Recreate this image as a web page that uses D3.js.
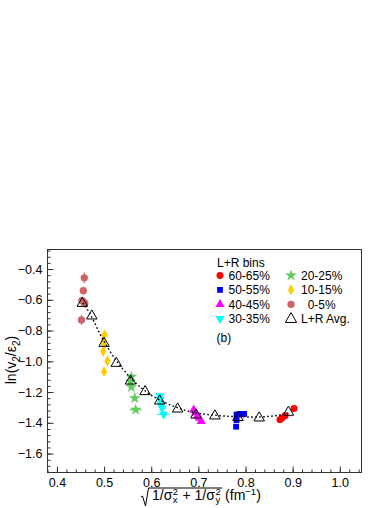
<!DOCTYPE html>
<html>
<head>
<meta charset="utf-8">
<script src="https://cdn.jsdelivr.net/npm/d3@7"></script>
<style>
  body { margin: 0; background: #fff; }
  svg { display: block; font-family: "Liberation Sans", Arial, Helvetica, sans-serif; }
</style>
</head>
<body>
<svg id="chart" width="392" height="508"></svg>
<script>
// ---------------- data ----------------
const bins = ["60-65%", "50-55%", "40-45%", "30-35%", "20-25%", "10-15%", "0-5%"];

// sqrt(1/sx^2+1/sy^2) and ln(v2/e2) for each L+R bin
const x6065 = [0.873, 0.877, 0.884, 0.903];
const y6065 = [-1.380, -1.370, -1.354, -1.307];
const x5055 = [0.781, 0.789, 0.797, 0.781, 0.780];
const y5055 = [-1.346, -1.342, -1.342, -1.382, -1.425];
const x4045 = [0.690, 0.694, 0.698, 0.702, 0.706];
const y4045 = [-1.315, -1.335, -1.355, -1.370, -1.390];
const x3035 = [0.618, 0.619, 0.621, 0.623, 0.626];
const y3035 = [-1.225, -1.248, -1.280, -1.305, -1.345];
const xe3035 = [0.004, 0.003, 0.003, 0.003, 0.014];
const x2025 = [0.558, 0.556, 0.558, 0.565, 0.567];
const y2025 = [-1.100, -1.130, -1.168, -1.240, -1.315];
const xe2025 = [0.003, 0.003, 0.003, 0.004, 0.013];
const x1015 = [0.501, 0.499, 0.500, 0.498, 0.507, 0.500];
const y1015 = [-0.828, -0.868, -0.893, -0.937, -0.998, -1.067];
const x0005 = [0.458, 0.456, 0.453, 0.457, 0.459, 0.452];
const y0005 = [-0.457, -0.541, -0.605, -0.615, -0.623, -0.731];
const ye0005 = [0.037, 0.025, 0.015, 0.015, 0.015, 0.033];

// L+R averages
const avgX = [0.454, 0.474, 0.500, 0.526, 0.556, 0.587, 0.618, 0.656, 0.695, 0.735, 0.784, 0.829, 0.891];
const avgY = [-0.623, -0.705, -0.883, -1.013, -1.128, -1.197, -1.258, -1.310, -1.349, -1.355, -1.365, -1.368, -1.331];

// dotted fit curve
const fitX = [0.455, 0.47, 0.48, 0.49, 0.50, 0.52, 0.54, 0.56, 0.58, 0.60, 0.62, 0.65, 0.68, 0.70, 0.74, 0.78, 0.82, 0.86, 0.895];
const fitY = [-0.62, -0.69, -0.75, -0.815, -0.87, -0.97, -1.05, -1.12, -1.175, -1.22, -1.255, -1.295, -1.325, -1.338, -1.352, -1.36, -1.362, -1.355, -1.332];

const xTicks = [0.4, 0.5, 0.6, 0.7, 0.8, 0.9, 1.0];
const yTicks = [-1.6, -1.4, -1.2, -1.0, -0.8, -0.6, -0.4];

// ---------------- styles ----------------
const style = {
  "60-65%": { color: "#ff0000", sym: d3.symbolCircle, size: 38, rot: 0 },
  "50-55%": { color: "#0000ff", sym: d3.symbolSquare, size: 34, rot: 0 },
  "40-45%": { color: "#ff00ff", sym: d3.symbolTriangle, size: 36, rot: 0 },
  "30-35%": { color: "#00ffff", sym: d3.symbolTriangle, size: 36, rot: 180 },
  "20-25%": { color: "#5fcc5f", sym: d3.symbolStar, size: 42, rot: 0 },
  "10-15%": { color: "#ffcc00", sym: d3.symbolDiamond, size: 34, rot: 0 },
  "0-5%":   { color: "#cc6464", sym: d3.symbolCircle, size: 42, rot: 0 }
};

const series = [
  { bin: "60-65%", x: x6065, y: y6065 },
  { bin: "50-55%", x: x5055, y: y5055 },
  { bin: "40-45%", x: x4045, y: y4045 },
  { bin: "30-35%", x: x3035, y: y3035, xe: xe3035 },
  { bin: "20-25%", x: x2025, y: y2025, xe: xe2025 },
  { bin: "10-15%", x: x1015, y: y1015 },
  { bin: "0-5%",   x: x0005, y: y0005, ye: ye0005 }
];

const svg = d3.select("#chart");

// frame area
const fLeft = 47.5, fRight = 361.5, fTop = 249.5, fBottom = 472.5;

const x = d3.scaleLinear().domain([0.38, 1.046]).range([fLeft, fRight]);
const y = d3.scaleLinear().domain([-1.723, -0.273]).range([fBottom, fTop]);

svg.append("rect")
  .attr("x", fLeft).attr("y", fTop)
  .attr("width", fRight - fLeft).attr("height", fBottom - fTop)
  .attr("fill", "none").attr("stroke", "#333").attr("stroke-width", 1);

// axes, ticks pointing inside like ROOT
const fmt = d3.format(".1f");
const xMinor = d3.range(19, 53).map(i => +(i * 0.02).toFixed(2));
const yMinor = d3.range(-43, -6).map(i => +(i * 0.04).toFixed(2));

const gx = svg.append("g").attr("transform", `translate(0,${fBottom})`);
gx.call(d3.axisBottom(x).tickValues(xMinor).tickSize(-3).tickFormat(""));
gx.append("g").call(d3.axisBottom(x).tickValues(xTicks).tickSize(-6).tickPadding(6).tickFormat(fmt));

const gy = svg.append("g").attr("transform", `translate(${fLeft},0)`);
gy.call(d3.axisLeft(y).tickValues(yMinor).tickSize(-3).tickFormat(""));
gy.append("g").call(d3.axisLeft(y).tickValues(yTicks).tickSize(-6).tickPadding(5).tickFormat(fmt));

svg.selectAll(".domain").remove();
svg.selectAll(".tick line").attr("stroke", "#333");
svg.selectAll(".tick text").attr("fill", "#000").style("font-size", "12.5px")
  .style("font-family", "'Liberation Sans', Arial, sans-serif");

// error bars then markers
const plot = svg.append("g");
series.forEach(s => {
  const st = style[s.bin];
  const pts = s.x.map((v, i) => ({ x: v, y: s.y[i], xe: s.xe ? s.xe[i] : 0, ye: s.ye ? s.ye[i] : 0 }));
  const g = plot.append("g");
  g.selectAll("line.ye").data(pts.filter(d => d.ye > 0)).enter().append("line")
    .attr("x1", d => x(d.x)).attr("x2", d => x(d.x))
    .attr("y1", d => y(d.y - d.ye)).attr("y2", d => y(d.y + d.ye))
    .attr("stroke", st.color).attr("stroke-width", 1);
  g.selectAll("line.xe").data(pts.filter(d => d.xe > 0)).enter().append("line")
    .attr("x1", d => x(d.x - d.xe)).attr("x2", d => x(d.x + d.xe))
    .attr("y1", d => y(d.y)).attr("y2", d => y(d.y))
    .attr("stroke", st.color).attr("stroke-width", 1);
  g.selectAll("path").data(pts).enter().append("path")
    .attr("d", d3.symbol().type(st.sym).size(st.size))
    .attr("transform", d => `translate(${x(d.x)},${y(d.y)}) rotate(${st.rot})`)
    .attr("fill", st.color);
});

// L+R average open triangles
const avg = avgX.map((v, i) => ({ x: v, y: avgY[i] }));
plot.append("g").selectAll("path").data(avg).enter().append("path")
  .attr("d", d3.symbol().type(d3.symbolTriangle).size(48))
  .attr("transform", d => `translate(${x(d.x)},${y(d.y)})`)
  .attr("fill", "none").attr("stroke", "#000").attr("stroke-width", 1);

// dotted fit
const fit = fitX.map((v, i) => [v, fitY[i]]);
plot.append("path")
  .datum(fit)
  .attr("d", d3.line().x(d => x(d[0])).y(d => y(d[1])).curve(d3.curveMonotoneX))
  .attr("fill", "none").attr("stroke", "#000").attr("stroke-width", 1.4)
  .attr("stroke-dasharray", "1.6,2.4");

// legend
const leg = svg.append("g").style("font-size", "12px");
leg.append("text").attr("x", 217).attr("y", 267).text("L+R bins");
const legItems = ["60-65%", "50-55%", "40-45%", "30-35%", "20-25%", "10-15%", "0-5%", "L+R Avg."];
const legLabel = { "0-5%": "  0-5%" };
legItems.forEach((b, i) => {
  const col = Math.floor(i / 4), row = i % 4;
  const mx = col === 0 ? 220 : 291;
  const tx = col === 0 ? 228.5 : 301;
  const my = 275.5 + row * 14.4;
  if (b === "L+R Avg.") {
    leg.append("path")
      .attr("d", d3.symbol().type(d3.symbolTriangle).size(56))
      .attr("transform", `translate(${mx},${my + 0.5})`)
      .attr("fill", "none").attr("stroke", "#000").attr("stroke-width", 1);
  } else {
    const st = style[b];
    leg.append("path")
      .attr("d", d3.symbol().type(st.sym).size(st.size))
      .attr("transform", `translate(${mx},${my}) rotate(${st.rot})`)
      .attr("fill", st.color);
  }
  leg.append("text").attr("x", tx).attr("y", my + 4.3)
    .style("white-space", "pre")
    .text(legLabel[b] || b);
});
leg.append("text").attr("x", 216.5).attr("y", 342).text("(b)");

// y title ln(v2/e2)
const yt = svg.append("text")
  .attr("transform", "translate(16,360) rotate(-90)")
  .attr("text-anchor", "middle")
  .style("font-size", "14px");
yt.append("tspan").text("ln(v");
yt.append("tspan").attr("dy", 4).style("font-size", "10px").text("2");
yt.append("tspan").attr("dy", -4).text("/\u03b5");
yt.append("tspan").attr("dy", 4).style("font-size", "10px").text("2");
yt.append("tspan").attr("dy", -4).text(")");

// x title sqrt(1/sx^2 + 1/sy^2) (fm^-1)
const xt = svg.append("g").style("font-size", "14px");
const base = 500;
let cx = 152;
function seg(str) {
  const t = xt.append("text").attr("x", cx).attr("y", base).style("white-space", "pre").text(str);
  cx += t.node().getComputedTextLength();
}
function stack(sup, sub) {
  const a = xt.append("text").attr("x", cx + 0.5).attr("y", base - 5.5).style("font-size", "9.5px").text(sup);
  const b = xt.append("text").attr("x", cx + 0.5).attr("y", base + 3).style("font-size", "9.5px").text(sub);
  cx += Math.max(a.node().getComputedTextLength(), b.node().getComputedTextLength()) + 1;
}
seg("1/\u03c3");
stack("2", "x");
seg(" + 1/\u03c3");
stack("2", "y");
const rootEnd = cx + 1;
seg(" (fm");
const sp = xt.append("text").attr("x", cx).attr("y", base - 5.5).style("font-size", "9.5px").text("\u22121");
cx += sp.node().getComputedTextLength();
seg(")");
// radical sign
svg.append("path")
  .attr("d", `M141,497 L142.5,496 L145.5,506 L148.5,488 L${rootEnd},488`)
  .attr("fill", "none").attr("stroke", "#000").attr("stroke-width", 1);
</script>
</body>
</html>
